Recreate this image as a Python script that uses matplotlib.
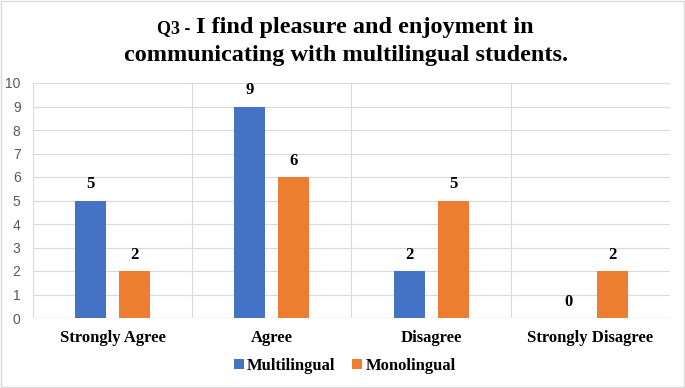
import numpy as np
import matplotlib.pyplot as plt
from matplotlib.patches import Rectangle

categories = ['Strongly Agree', 'Agree', 'Disagree', 'Strongly Disagree']
multilingual = [5, 9, 2, 0]
monolingual = [2, 6, 5, 2]
yticks = list(range(0, 11))

blue = '#4472C4'
orange = '#ED7D31'
grid = '#D9D9D9'
serif = 'Liberation Serif'

fig = plt.figure(figsize=(6.85, 3.88), dpi=100)
ax = fig.add_axes([33 / 685, 1 - 318 / 388, (670 - 33) / 685, (318 - 83) / 388])

x = np.arange(len(categories))
w = 0.195
off = 0.138
b1 = ax.bar(x - off, multilingual, w, color=blue, label='Multilingual', zorder=3)
b2 = ax.bar(x + off, monolingual, w, color=orange, label='Monolingual', zorder=3)

for bars in (b1, b2):
    for rect in bars:
        h = rect.get_height()
        ax.text(rect.get_x() + rect.get_width() / 2, h + 0.35, str(int(h)),
                ha='center', va='bottom', fontsize=12, fontweight='bold', family=serif)

ax.set_xlim(-0.5, len(categories) - 0.5)
ax.set_ylim(0, 10)
ax.set_yticks(yticks)
ax.set_yticklabels([str(t) for t in yticks], fontsize=10, color='#595959',
                   family='Liberation Sans')
ax.set_xticks(x)
ax.set_xticklabels(categories, fontsize=12, fontweight='bold', family=serif)
ax.tick_params(length=0)
ax.tick_params(axis='y', pad=9)
ax.tick_params(axis='x', pad=9)

ax.grid(axis='y', color=grid, lw=0.8, zorder=0)
for xv in np.arange(-0.5, len(categories), 1.0):
    ax.axvline(xv, color=grid, lw=0.8, zorder=0)
for s in ax.spines.values():
    s.set_visible(False)
ax.axhline(0, color=grid, lw=1, zorder=1)

# title: small "Q3 -" prefix then the larger question text
fig.text(157 / 685, 1 - 29 / 388, 'Q3 -', fontsize=13, fontweight='bold', family=serif,
         ha='left', va='center')
fig.text(196 / 685, 1 - 28 / 388, 'I find pleasure and enjoyment in', fontsize=17.5,
         fontweight='bold', family=serif, ha='left', va='center')
fig.text(346 / 685, 1 - 56 / 388, 'communicating with multilingual students.', fontsize=17.5,
         fontweight='bold', family=serif, ha='center', va='center')

fig.legend(handles=[b1, b2], loc='center', bbox_to_anchor=(0.503, 1 - 366 / 388),
           ncol=2, frameon=False, handlelength=0.6, handleheight=0.6,
           handletextpad=0.2, columnspacing=1.0,
           prop={'family': serif, 'weight': 'bold', 'size': 12})

fig.patches.append(Rectangle((0.001, 0.002), 0.997, 0.995, transform=fig.transFigure,
                             fill=False, edgecolor='#D9D9D9', lw=1))

fig.savefig('out.png', dpi=100)
